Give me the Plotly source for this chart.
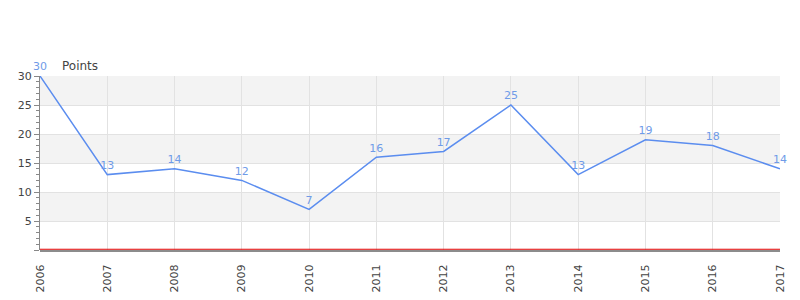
import plotly.graph_objects as go

years = [2006, 2007, 2008, 2009, 2010, 2011, 2012, 2013, 2014, 2015, 2016, 2017]
points = [30, 13, 14, 12, 7, 16, 17, 25, 13, 19, 18, 14]
y_ticks = [0, 5, 10, 15, 20, 25, 30]
y_tick_labels = ["", "5", "10", "15", "20", "25", "30"]
bands = [(5, 10), (15, 20), (25, 30)]

fig = go.Figure()
fig.add_trace(go.Scatter(
    x=years, y=points, mode="lines+markers+text",
    text=[str(v) for v in points], textposition="top center",
    textfont=dict(color="#6F9BE8", size=11, family="DejaVu Sans"),
    line=dict(color="#5B8DEF", width=1.5),
    marker=dict(size=3, color="rgba(0,0,0,0)"),
    cliponaxis=False, hoverinfo="skip",
))

shapes = []
for lo, hi in bands:
    shapes.append(dict(type="rect", xref="paper", yref="y", x0=0, x1=1, y0=lo, y1=hi,
                       fillcolor="#F3F3F3", line=dict(width=0), layer="below"))
shapes.append(dict(type="line", xref="paper", yref="paper", ysizemode="pixel", yanchor=0,
                   x0=0, x1=1, y0=-1, y1=-1, line=dict(color="#666", width=1.5)))
shapes.append(dict(type="line", xref="paper", yref="paper", ysizemode="pixel", yanchor=0,
                   x0=0, x1=1, y0=0.8, y1=0.8, line=dict(color="#E00000", width=1.1)))

fig.update_layout(
    width=800, height=300,
    margin=dict(l=40, r=20, t=76, b=50),
    paper_bgcolor="white", plot_bgcolor="white",
    font=dict(family="DejaVu Sans", size=11, color="#444"),
    showlegend=False,
    shapes=shapes,
    annotations=[dict(text="Points", xref="paper", yref="paper", x=0.027, y=1,
                      xanchor="left", yanchor="bottom", yshift=1, showarrow=False,
                      font=dict(size=12, color="#444"))],
    xaxis=dict(range=[2006, 2017], tickmode="array", tickvals=years,
               ticktext=[str(y) for y in years], tickangle=-90,
               showgrid=True, gridcolor="#E2E2E2", gridwidth=1,
               showline=False, zeroline=False, automargin=False,
               ticks="outside", ticklen=6, tickcolor="rgba(0,0,0,0)",
               ticklabelstandoff=3),
    yaxis=dict(range=[0, 30], tickmode="array", tickvals=y_ticks, ticktext=y_tick_labels,
               showgrid=True, gridcolor="#E2E2E2", gridwidth=1,
               showline=True, linecolor="#888", linewidth=1, automargin=False,
               zeroline=False, ticks="outside", ticklen=5, tickcolor="#888",
               minor=dict(dtick=1, ticks="outside", ticklen=3, tickcolor="#888", showgrid=False)),
)

fig.write_html("out.html")
